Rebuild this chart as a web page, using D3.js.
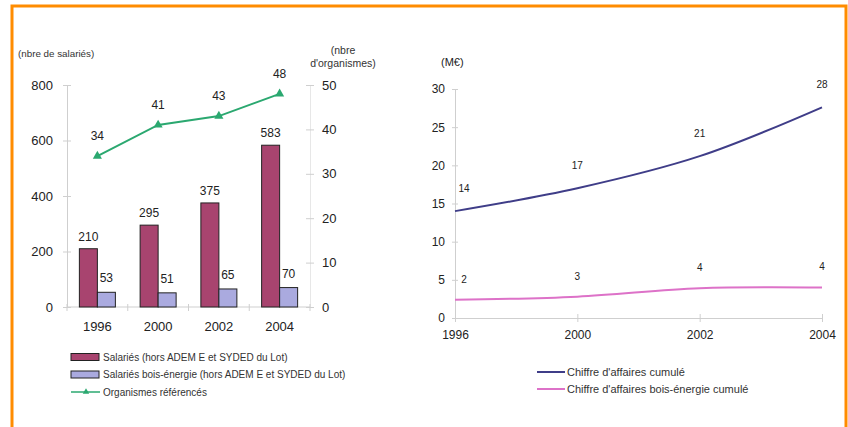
<!DOCTYPE html>
<html>
<head>
<meta charset="utf-8">
<script src="https://cdn.jsdelivr.net/npm/d3@7"></script>
<style>
  body { margin: 0; background: #fff; }
  svg { display: block; font-family: "Liberation Sans", Arial, sans-serif; }
  .axis path, .axis line { stroke: #cfcfcf; }
  .axis text { fill: #222; }
</style>
</head>
<body>
<script>
// data, left chart
let years = ["1996", "2000", "2002", "2004"];
let salaries = [210, 295, 375, 583];
let salariesBois = [53, 51, 65, 70];
let organismes = [34, 41, 43, 48];

// data, right chart
let caCumule = [14.0, 17.0, 21.2, 27.6];
let caCumuleLabels = ["14", "17", "21", "28"];
let caBois = [2.4, 2.8, 3.9, 4.0];
let caBoisLabels = ["2", "3", "4", "4"];

let legendLeft = ["Salariés (hors ADEM E et SYDED du Lot)", "Salariés bois-énergie (hors ADEM E et SYDED du Lot)", "Organismes référencés"];
let legendRight = ["Chiffre d'affaires cumulé", "Chiffre d'affaires bois-énergie cumulé"];

let colMaroon = "#a8446f", colBlue = "#aaaadf", colGreen = "#2ba870";
let colNavy = "#3f3d88", colPink = "#dd72c8";

let svg = d3.select("body").append("svg")
  .attr("width", 848).attr("height", 427);

// orange frame (no bottom edge visible)
svg.append("path")
  .attr("d", "M12,430 L12,6 L846,6 L846,430")
  .attr("fill", "none").attr("stroke", "#ff8c00").attr("stroke-width", 3);

// ---------- left chart ----------
let xBand = d3.scaleBand().domain(years).range([67, 310]);
let yLeft = d3.scaleLinear().domain([0, 800]).range([307, 85]);
let yRight = d3.scaleLinear().domain([0, 50]).range([307, 85]);
let barW = 18;

let gL = svg.append("g");

gL.append("g").attr("class", "axis")
  .attr("transform", "translate(67,0)")
  .call(d3.axisLeft(yLeft).tickValues([0, 200, 400, 600, 800]).tickSize(4).tickSizeOuter(0).tickPadding(10))
  .call(g => g.selectAll(".tick line").attr("x1", -4).attr("x2", 4))
  .call(g => g.selectAll("text").style("font-size", "13px"));

gL.append("g").attr("class", "axis")
  .attr("transform", "translate(310,0)")
  .call(d3.axisRight(yRight).tickValues([0, 10, 20, 30, 40, 50]).tickSize(4).tickSizeOuter(0).tickPadding(8))
  .call(g => g.select(".domain").attr("stroke-dasharray", "1,1"))
  .call(g => g.selectAll(".tick line").attr("x1", -4).attr("x2", 4))
  .call(g => g.selectAll("text").style("font-size", "13px"));

// x axis with ticks between categories
let xAxisL = gL.append("g").attr("class", "axis").attr("transform", "translate(0,307)");
xAxisL.append("line").attr("x1", 67).attr("x2", 310).attr("stroke", "#cfcfcf");
xAxisL.selectAll(".sep").data(years.concat(["end"])).enter().append("line")
  .attr("x1", (d, i) => 67 + i * xBand.bandwidth())
  .attr("x2", (d, i) => 67 + i * xBand.bandwidth())
  .attr("y1", -3).attr("y2", 4).attr("stroke", "#cfcfcf");
xAxisL.selectAll("text").data(years).enter().append("text")
  .attr("x", d => xBand(d) + xBand.bandwidth() / 2)
  .attr("y", 24).attr("text-anchor", "middle")
  .style("font-size", "13px").attr("fill", "#222").text(d => d);

// bars
gL.selectAll(".bar1").data(salaries).enter().append("rect")
  .attr("x", (d, i) => xBand(years[i]) + xBand.bandwidth() / 2 - barW)
  .attr("y", d => yLeft(d)).attr("width", barW)
  .attr("height", d => yLeft(0) - yLeft(d))
  .attr("fill", colMaroon).attr("stroke", "#222").attr("stroke-width", 1);
gL.selectAll(".bar2").data(salariesBois).enter().append("rect")
  .attr("x", (d, i) => xBand(years[i]) + xBand.bandwidth() / 2)
  .attr("y", d => yLeft(d)).attr("width", barW)
  .attr("height", d => yLeft(0) - yLeft(d))
  .attr("fill", colBlue).attr("stroke", "#222").attr("stroke-width", 1);

gL.selectAll(".lab1").data(salaries).enter().append("text")
  .attr("x", (d, i) => xBand(years[i]) + xBand.bandwidth() / 2 - barW / 2)
  .attr("y", d => yLeft(d) - 8).attr("text-anchor", "middle")
  .style("font-size", "12px").attr("fill", "#222").text(d => d);
gL.selectAll(".lab2").data(salariesBois).enter().append("text")
  .attr("x", (d, i) => xBand(years[i]) + xBand.bandwidth() / 2 + barW / 2)
  .attr("y", d => yLeft(d) - 10).attr("text-anchor", "middle")
  .style("font-size", "12px").attr("fill", "#222").text(d => d);

// organismes line
let lineOrg = d3.line()
  .x((d, i) => xBand(years[i]) + xBand.bandwidth() / 2)
  .y(d => yRight(d));
gL.append("path").datum(organismes).attr("d", lineOrg)
  .attr("fill", "none").attr("stroke", colGreen).attr("stroke-width", 2);
gL.selectAll(".tri").data(organismes).enter().append("path")
  .attr("d", d3.symbol(d3.symbolTriangle, 36))
  .attr("transform", (d, i) => "translate(" + (xBand(years[i]) + xBand.bandwidth() / 2) + "," + yRight(d) + ")")
  .attr("fill", colGreen);
gL.selectAll(".lab3").data(organismes).enter().append("text")
  .attr("x", (d, i) => xBand(years[i]) + xBand.bandwidth() / 2)
  .attr("y", d => yRight(d) - 16).attr("text-anchor", "middle")
  .style("font-size", "12px").attr("fill", "#222").text(d => d);

// axis titles
gL.append("text").attr("x", 18).attr("y", 57).style("font-size", "9.8px").attr("fill", "#333")
  .text("(nbre de salariés)");
gL.append("text").attr("x", 343).attr("y", 54).attr("text-anchor", "middle")
  .style("font-size", "10.5px").attr("fill", "#333").text("(nbre");
gL.append("text").attr("x", 343).attr("y", 67).attr("text-anchor", "middle")
  .style("font-size", "10.5px").attr("fill", "#333").text("d'organismes)");

// left legend
let legL = gL.append("g").attr("transform", "translate(71,357)");
legL.selectAll(".sw").data(legendLeft.slice(0, 2)).enter().append("rect")
  .attr("x", 0).attr("y", (d, i) => i * 17.5 - 3.5)
  .attr("width", 28).attr("height", 7)
  .attr("fill", (d, i) => i === 0 ? colMaroon : colBlue)
  .attr("stroke", "#222").attr("stroke-width", 1);
legL.append("line").attr("x1", 0).attr("x2", 29).attr("y1", 35).attr("y2", 35)
  .attr("stroke", colGreen).attr("stroke-width", 1.5);
legL.append("path").attr("d", d3.symbol(d3.symbolTriangle, 18))
  .attr("transform", "translate(15,35)").attr("fill", colGreen);
legL.selectAll(".lt").data(legendLeft).enter().append("text")
  .attr("x", 32).attr("y", (d, i) => i * 17.5 + 3.5)
  .style("font-size", "10px").attr("fill", "#333").text(d => d);

// ---------- right chart ----------
let xPoint = d3.scalePoint().domain(years).range([455, 822]);
let yCA = d3.scaleLinear().domain([0, 30]).range([318, 89]);

let gR = svg.append("g");

gR.append("g").attr("class", "axis")
  .attr("transform", "translate(455,0)")
  .call(d3.axisLeft(yCA).tickValues([0, 5, 10, 15, 20, 25, 30]).tickSize(4).tickSizeOuter(0).tickPadding(6))
  .call(g => g.selectAll(".tick line").attr("x1", -3).attr("x2", 3))
  .call(g => g.selectAll("text").style("font-size", "12px"));

gR.append("g").attr("class", "axis")
  .attr("transform", "translate(0,318)")
  .call(d3.axisBottom(xPoint).tickSize(4).tickSizeOuter(0).tickPadding(8))
  .call(g => g.selectAll(".tick line").attr("y1", -4).attr("y2", 4))
  .call(g => g.selectAll("text").style("font-size", "12px"));

let lineCA = d3.line()
  .x((d, i) => xPoint(years[i]))
  .y(d => yCA(d))
  .curve(d3.curveCatmullRom.alpha(0.5));

gR.append("path").datum(caBois).attr("d", lineCA)
  .attr("fill", "none").attr("stroke", colPink).attr("stroke-width", 2);
gR.append("path").datum(caCumule).attr("d", lineCA)
  .attr("fill", "none").attr("stroke", colNavy).attr("stroke-width", 2);

gR.selectAll(".lab4").data(caCumule).enter().append("text")
  .attr("x", (d, i) => xPoint(years[i]) + (i === 0 ? 9 : 0))
  .attr("y", d => yCA(d) - 19).attr("text-anchor", "middle")
  .style("font-size", "10px").attr("fill", "#222").text((d, i) => caCumuleLabels[i]);
gR.selectAll(".lab5").data(caBois).enter().append("text")
  .attr("x", (d, i) => xPoint(years[i]) + (i === 0 ? 9 : 0))
  .attr("y", d => yCA(d) - 17).attr("text-anchor", "middle")
  .style("font-size", "10px").attr("fill", "#222").text((d, i) => caBoisLabels[i]);

gR.append("text").attr("x", 441).attr("y", 66).style("font-size", "11px").attr("fill", "#222")
  .text("(M€)");

// right legend
let legR = gR.append("g").attr("transform", "translate(537,372)");
legR.selectAll(".ln").data(legendRight).enter().append("line")
  .attr("x1", 0).attr("x2", 28)
  .attr("y1", (d, i) => i * 17).attr("y2", (d, i) => i * 17)
  .attr("stroke", (d, i) => i === 0 ? colNavy : colPink).attr("stroke-width", 2);
legR.selectAll(".lt").data(legendRight).enter().append("text")
  .attr("x", 30).attr("y", (d, i) => i * 17 + 4)
  .style("font-size", "11px").attr("fill", "#333").text(d => d);
</script>
</body>
</html>
